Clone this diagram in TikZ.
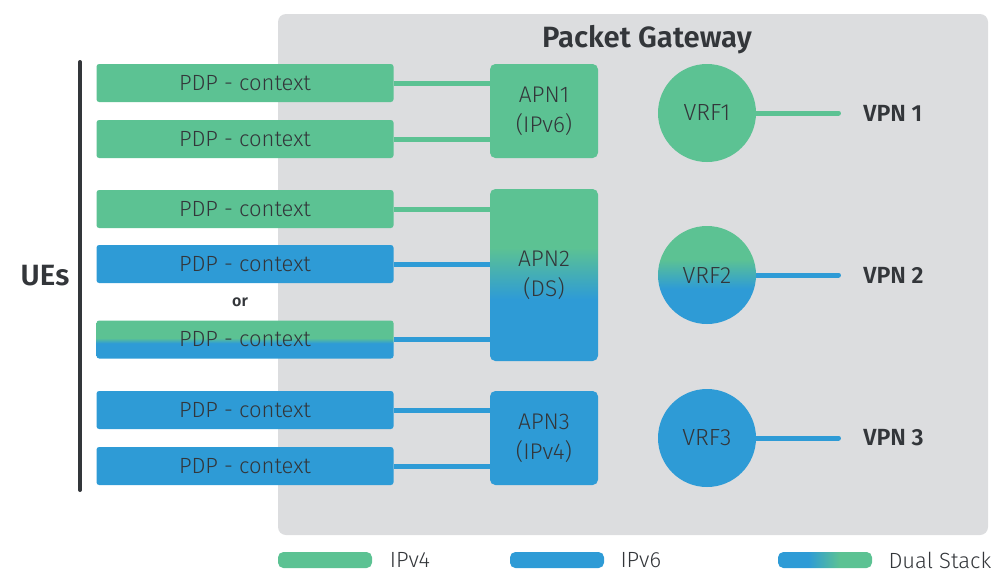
\documentclass[tikz,border=0pt]{standalone}
\usepackage{fontspec}
\setmainfont{Fira Sans}[UprightFont=* Light, BoldFont=* SemiBold]
\usetikzlibrary{positioning}

\definecolor{ipfour}{HTML}{5CC293}
\definecolor{ipsix}{HTML}{2E9BD6}
\definecolor{gwgray}{HTML}{DCDDDF}
\definecolor{txtgray}{HTML}{33363A}

% dual stack shadings (blue at the bottom / left, green at the top / right)
\pgfdeclareverticalshading{dsbox}{100bp}{color(0bp)=(ipsix); color(45bp)=(ipsix); color(52bp)=(ipfour); color(100bp)=(ipfour)}
\pgfdeclareverticalshading{dsbig}{100bp}{color(0bp)=(ipsix); color(43bp)=(ipsix); color(58bp)=(ipfour); color(100bp)=(ipfour)}
\pgfdeclarehorizontalshading{dsbar}{100bp}{color(0bp)=(ipsix); color(41bp)=(ipsix); color(58bp)=(ipfour); color(100bp)=(ipfour)}

\begin{document}
\begin{tikzpicture}[x=0.75pt, y=-0.75pt,
    pdpbox/.style={rounded corners=2pt, minimum width=222.75pt, minimum height=28.5pt, inner sep=0pt,
        font=\fontsize{16.5}{19}\selectfont, text=txtgray},
    apnbox/.style={rounded corners=4pt, minimum width=81pt, inner sep=0pt, align=center,
        font=\fontsize{17}{22.5}\selectfont, text=txtgray},
    vrf/.style={circle, minimum size=73.5pt, inner sep=0pt, font=\fontsize{17.5}{20}\selectfont, text=txtgray},
    vpn/.style={anchor=west, inner sep=0pt, font=\fontsize{17.5}{20}\bfseries\selectfont, text=txtgray},
    link/.style={line width=3.75pt},
    legbar/.style={rounded corners=4pt, minimum width=70.5pt, minimum height=12pt, inner sep=0pt},
    legtext/.style={inner sep=0pt, font=\fontsize{16.5}{19}\selectfont, text=txtgray}]

    \useasboundingbox (0,0) rectangle (995,572);

    % gateway background
    \fill[gwgray, rounded corners=6pt] (278,14) rectangle (988,535);
    \node[font=\fontsize{22}{26}\bfseries\selectfont, text=txtgray] (gw) at (647,40) {Packet Gateway};

    % UEs
    \draw[txtgray, line width=3pt, line cap=round] (80,62) -- (80,490);
    \node[font=\fontsize{22}{26}\bfseries\selectfont, text=txtgray] (ues) at (45,276) {UEs};

    % PDP contexts
    \node[pdpbox, fill=ipfour] (pdp1) at (245,83) {PDP - context};
    \node[pdpbox, fill=ipfour] (pdp2) at (245,139) {PDP - context};
    \node[pdpbox, fill=ipfour] (pdp3) at (245,209) {PDP - context};
    \node[pdpbox, fill=ipsix] (pdp4) at (245,264) {PDP - context};
    \node[font=\fontsize{12}{14}\bfseries\selectfont, text=txtgray] (or) at (240,302) {or};
    \node[pdpbox, shading=dsbox] (pdp5) at (245,339.5) {PDP - context};
    \node[pdpbox, fill=ipsix] (pdp6) at (245,410) {PDP - context};
    \node[pdpbox, fill=ipsix] (pdp7) at (245,466) {PDP - context};

    % APNs
    \node[apnbox, fill=ipfour, minimum height=70.5pt] (apn1) at (544,111) {APN1\\(IPv6)};
    \node[apnbox, shading=dsbig, minimum height=129pt] (apn2) at (544,275) {APN2\\(DS)};
    \node[apnbox, fill=ipsix, minimum height=70.5pt] (apn3) at (544,438) {APN3\\(IPv4)};

    \draw[link, ipfour] (pdp1.east) -- (pdp1.east -| apn1.west);
    \draw[link, ipfour] (pdp2.east) -- (pdp2.east -| apn1.west);
    \draw[link, ipfour] (pdp3.east) -- (pdp3.east -| apn2.west);
    \draw[link, ipsix] (pdp4.east) -- (pdp4.east -| apn2.west);
    \draw[link, ipsix] (pdp5.east) -- (pdp5.east -| apn2.west);
    \draw[link, ipsix] (pdp6.east) -- (pdp6.east -| apn3.west);
    \draw[link, ipsix] (pdp7.east) -- (pdp7.east -| apn3.west);

    % VPNs
    \node[vpn] (vpn1) at (863,113) {VPN 1};
    \node[vpn] (vpn2) at (863,275) {VPN 2};
    \node[vpn] (vpn3) at (863,438) {VPN 3};

    \coordinate (vrfc1) at (707,113);
    \coordinate (vrfc2) at (707,275);
    \coordinate (vrfc3) at (707,438);
    \draw[link, ipfour, line cap=round, shorten >=18.4pt] (vrfc1) -- (vrfc1 -| vpn1.west);
    \draw[link, ipsix, line cap=round, shorten >=18.4pt] (vrfc2) -- (vrfc2 -| vpn2.west);
    \draw[link, ipsix, line cap=round, shorten >=18.4pt] (vrfc3) -- (vrfc3 -| vpn3.west);

    % VRFs
    \node[vrf, fill=ipfour] (vrf1) at (vrfc1) {VRF1};
    \node[vrf, shading=dsbig] (vrf2) at (vrfc2) {VRF2};
    \node[vrf, fill=ipsix] (vrf3) at (vrfc3) {VRF3};

    % legend
    \node[legbar, fill=ipfour] (leg4) at (325,560) {};
    \node[legbar, fill=ipsix] (leg6) at (557,560) {};
    \node[legbar, shading=dsbar] (legds) at (825,560) {};
    \node[legtext, right=13pt of leg4] (txt4) {IPv4};
    \node[legtext, right=12pt of leg6] (txt6) {IPv6};
    \node[legtext, right=12pt of legds] (txtds) {Dual Stack};
\end{tikzpicture}
\end{document}
